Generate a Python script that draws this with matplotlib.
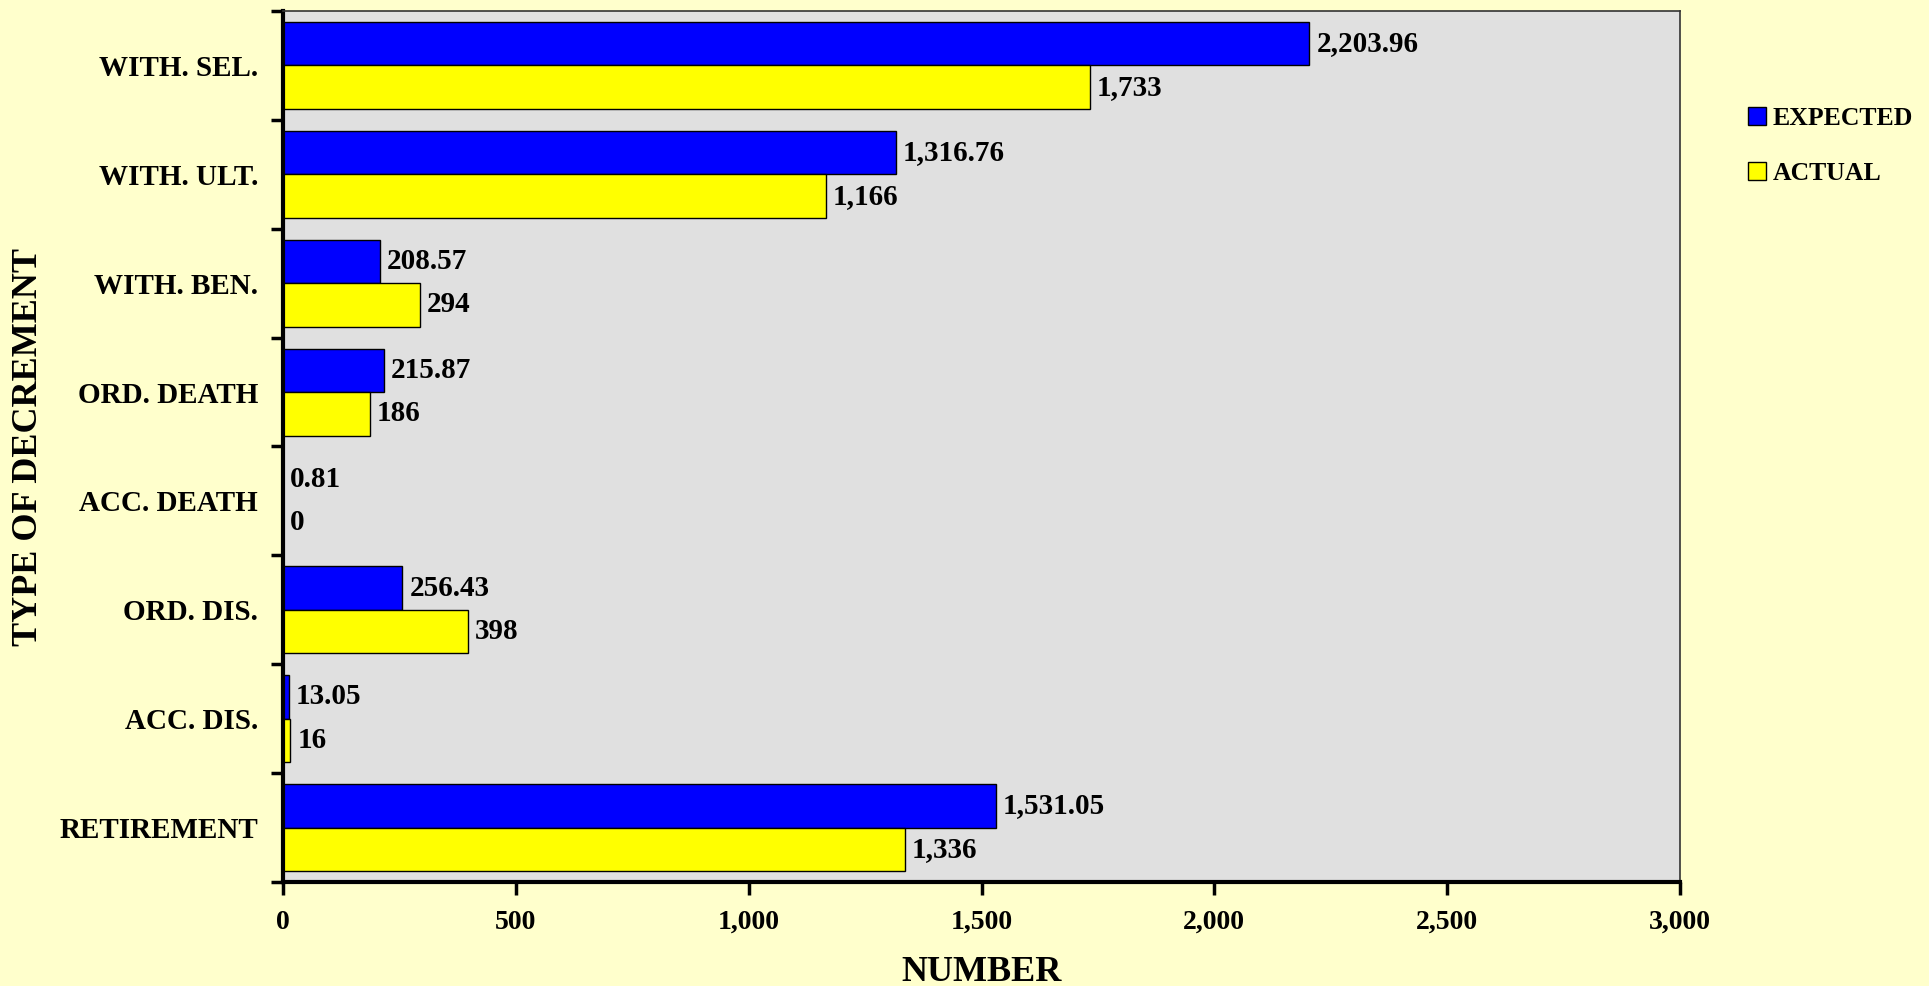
import matplotlib
matplotlib.use('Agg')
import matplotlib.pyplot as plt
import numpy as np
from matplotlib.patches import Patch
from matplotlib.ticker import FuncFormatter

# 数据
categories = ['WITH. SEL.', 'WITH. ULT.', 'WITH. BEN.', 'ORD. DEATH',
              'ACC. DEATH', 'ORD. DIS.', 'ACC. DIS.', 'RETIREMENT']
expected = [2203.96, 1316.76, 208.57, 215.87, 0.81, 256.43, 13.05, 1531.05]
actual = [1733, 1166, 294, 186, 0, 398, 16, 1336]
x_ticks = [0, 500, 1000, 1500, 2000, 2500, 3000]

plt.rcParams['font.family'] = ['Liberation Serif', 'DejaVu Serif']
plt.rcParams['font.weight'] = 'bold'

fig = plt.figure(figsize=(19.29, 9.86), dpi=100, facecolor='#FFFFCC')
ax = fig.add_axes([283 / 1929, 104 / 986, 1397 / 1929, 871 / 986])
ax.set_facecolor('#E0E0E0')

y = np.arange(len(categories))
h = 0.4
b1 = ax.barh(y - h / 2, expected, height=h, color='#0000FF', edgecolor='black', linewidth=1.0, zorder=2)
b2 = ax.barh(y + h / 2, actual, height=h, color='#FFFF00', edgecolor='black', linewidth=1.0, zorder=2)

# 数值标签
ax.bar_label(b1, labels=[f'{v:,.2f}' for v in expected], padding=5, fontsize=21, fontweight='bold')
ax.bar_label(b2, labels=[f'{v:,.0f}' for v in actual], padding=5, fontsize=21, fontweight='bold')

ax.set_xlim(0, 3000)
ax.set_ylim(len(categories) - 0.5, -0.5)

ax.set_xticks(x_ticks)
ax.xaxis.set_major_formatter(FuncFormatter(lambda v, p: f'{v:,.0f}'))
ax.tick_params(axis='x', direction='out', length=9, width=2.5, pad=11, labelsize=20)

# y轴刻度在类别边界，标签在类别中间
ax.set_yticks(np.arange(-0.5, len(categories)), labels=[''] * (len(categories) + 1))
ax.set_yticks(y, labels=categories, minor=True)
ax.tick_params(axis='y', which='major', direction='out', length=9, width=2.5)
ax.tick_params(axis='y', which='minor', length=0, pad=18, labelsize=21)

for side in ['left', 'bottom']:
    ax.spines[side].set_linewidth(3)
    ax.spines[side].set_color('black')
for side in ['top', 'right']:
    ax.spines[side].set_linewidth(1.2)
    ax.spines[side].set_color('#333333')

ax.set_xlabel('NUMBER', fontsize=26, fontweight='bold')
ax.xaxis.set_label_coords(0.5, -0.1137)
ax.xaxis.label.set_verticalalignment('baseline')
ax.set_ylabel('TYPE OF DECREMENT', fontsize=26, fontweight='bold')
ax.yaxis.set_label_coords(-0.1825, 0.5)
ax.yaxis.label.set_verticalalignment('center')

handles = [Patch(facecolor='#0000FF', edgecolor='black', label='EXPECTED'),
           Patch(facecolor='#FFFF00', edgecolor='black', label='ACTUAL')]
fig.legend(handles=handles, loc='center left', bbox_to_anchor=(1735 / 1929, 1 - 146 / 986),
           frameon=False, fontsize=18.5, handlelength=0.7, handleheight=0.7,
           handletextpad=0.25, labelspacing=1.25, borderpad=0)

fig.savefig('out.png', dpi=100, facecolor=fig.get_facecolor())
